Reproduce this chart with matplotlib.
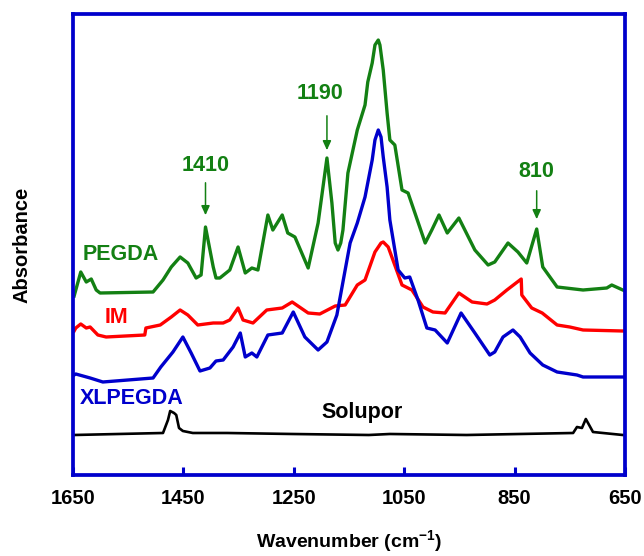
import numpy as np
import matplotlib.pyplot as plt

# FTIR spectra of the membrane samples (offset for clarity)
wn_pegda = [1648, 1645, 1636, 1626, 1617, 1608, 1601, 1505, 1487, 1472, 1456, 1442, 1427, 1418,
            1410, 1396, 1391, 1384, 1366, 1351, 1338, 1326, 1315, 1297, 1288, 1271, 1261, 1248,
            1224, 1206, 1190, 1181, 1175, 1170, 1165, 1161, 1152, 1135, 1121, 1116, 1108, 1103,
            1097, 1094, 1088, 1081, 1076, 1067, 1054, 1043, 1012, 1000, 987, 972, 951, 922, 898,
            886, 862, 844, 828, 810, 799, 773, 726, 683, 674, 654, 650]
ab_pegda = [1.79, 1.85, 2.03, 1.93, 1.96, 1.85, 1.82, 1.83, 1.95, 2.08, 2.18, 2.12, 1.97, 2.00,
            2.48, 2.08, 1.97, 1.97, 2.05, 2.28, 2.02, 2.07, 2.05, 2.60, 2.45, 2.60, 2.42, 2.38,
            2.07, 2.52, 3.17, 2.72, 2.32, 2.25, 2.32, 2.45, 3.02, 3.45, 3.70, 3.93, 4.12, 4.30,
            4.35, 4.30, 4.05, 3.62, 3.35, 3.30, 2.85, 2.82, 2.32, 2.45, 2.60, 2.42, 2.57, 2.25,
            2.10, 2.13, 2.32, 2.23, 2.12, 2.46, 2.08, 1.88, 1.85, 1.87, 1.90, 1.85, 1.84]

wn_im = [1648, 1645, 1636, 1626, 1619, 1605, 1590, 1520, 1518, 1492, 1472, 1456, 1442, 1424,
         1396, 1378, 1366, 1351, 1342, 1324, 1299, 1271, 1253, 1224, 1203, 1175, 1157, 1135,
         1121, 1103, 1092, 1088, 1079, 1054, 1036, 1016, 998, 976, 951, 927, 900, 886, 864,
         838, 837, 819, 800, 773, 750, 726, 654, 650]
ab_im = [1.44, 1.47, 1.51, 1.47, 1.48, 1.40, 1.38, 1.40, 1.47, 1.50, 1.58, 1.65, 1.60, 1.50,
         1.52, 1.52, 1.55, 1.67, 1.55, 1.52, 1.65, 1.67, 1.73, 1.62, 1.61, 1.69, 1.70, 1.90,
         1.95, 2.23, 2.32, 2.33, 2.28, 1.90, 1.85, 1.68, 1.63, 1.62, 1.82, 1.73, 1.71, 1.75,
         1.85, 1.96, 1.80, 1.67, 1.62, 1.50, 1.48, 1.45, 1.44, 1.44]

wn_xl = [1648, 1645, 1619, 1596, 1505, 1491, 1469, 1451, 1436, 1420, 1402, 1391, 1378, 1360,
         1347, 1338, 1326, 1317, 1297, 1271, 1251, 1230, 1206, 1190, 1172, 1148, 1135, 1121,
         1108, 1103, 1097, 1092, 1088, 1081, 1076, 1061, 1049, 1040, 1025, 1009, 994, 972,
         947, 922, 895, 886, 871, 853, 840, 822, 799, 773, 737, 726, 650]
ab_xl = [1.00, 1.01, 0.97, 0.93, 0.97, 1.08, 1.23, 1.38, 1.22, 1.04, 1.07, 1.14, 1.15, 1.28,
         1.42, 1.18, 1.22, 1.18, 1.40, 1.42, 1.63, 1.38, 1.25, 1.33, 1.60, 2.32, 2.52, 2.78,
         3.15, 3.35, 3.45, 3.38, 3.18, 2.88, 2.55, 2.05, 1.97, 1.98, 1.75, 1.47, 1.45, 1.32,
         1.62, 1.42, 1.20, 1.23, 1.38, 1.45, 1.38, 1.22, 1.10, 1.03, 1.00, 0.98, 0.98]

wn_sol = [1648, 1487, 1478, 1474, 1467, 1463, 1458, 1451, 1433, 1371, 1253, 1114, 1076, 937,
          744, 737, 728, 721, 713, 708, 654, 650]
ab_sol = [0.40, 0.42, 0.55, 0.64, 0.62, 0.60, 0.47, 0.44, 0.42, 0.42, 0.41, 0.40, 0.41, 0.40,
          0.42, 0.48, 0.47, 0.56, 0.48, 0.43, 0.40, 0.40]

# marked PEGDA bands
bands = [1410, 1190, 810]

green = '#138013'
blue = '#0000cc'
red = '#ff0000'
font = 'Liberation Sans'

fig = plt.figure(figsize=(6.44, 5.56), dpi=100)
ax = fig.add_axes([0.1134, 0.1457, 0.8571, 0.8291])

lw = 2.4
ax.plot(wn_pegda, ab_pegda, color=green, lw=lw, solid_joinstyle='round')
ax.plot(wn_im, ab_im, color=red, lw=lw, solid_joinstyle='round')
ax.plot(wn_xl, ab_xl, color=blue, lw=lw, solid_joinstyle='round')
ax.plot(wn_sol, ab_sol, color='black', lw=1.9, solid_joinstyle='round')

ax.set_xlim(1650, 650)
ax.set_ylim(0, 4.61)
ax.set_xticks(np.arange(1650, 649, -200))
ax.set_yticks([])
ax.tick_params(axis='x', direction='in', length=6, width=2.2, color=blue, pad=10)
for lab in ax.get_xticklabels():
    lab.set_fontfamily(font)
    lab.set_fontweight('bold')
    lab.set_fontsize(14.5)
for sp in ax.spines.values():
    sp.set_color(blue)
    sp.set_linewidth(2.7)

ax.set_xlabel('Wavenumber (cm$^{\\mathregular{-1}}$)', family=font, weight='bold',
              fontsize=14, labelpad=15)
ax.set_ylabel('Absorbance', family=font, weight='bold', fontsize=14.5, labelpad=30)

lab_kw = dict(family=font, weight='bold', fontsize=15.5, ha='center', va='center')
ax.text(1563, 2.21, 'PEGDA', color=green, **lab_kw)
ax.text(1572, 1.57, 'IM', color=red, **lab_kw)
ax.text(1543, 0.76, 'XLPEGDA', color=blue, **lab_kw)
ax.text(1127, 0.62, 'Solupor', color='black', **lab_kw)

# band labels with arrows down to the peaks
label_y = [3.10, 3.82, 3.04]
arrow_top = [2.95, 3.62, 2.87]
arrow_tip = [2.57, 3.22, 2.53]
text_dx = [0, 12, 0]
for b, ty, at, tip, dx in zip(bands, label_y, arrow_top, arrow_tip, text_dx):
    ax.text(b + dx, ty, str(b), color=green, **lab_kw)
    ax.annotate('', xy=(b, tip), xytext=(b, at),
                arrowprops=dict(arrowstyle='-|>,head_length=0.55,head_width=0.25',
                                color=green, lw=1.1))

fig.savefig('out.png', dpi=100)
